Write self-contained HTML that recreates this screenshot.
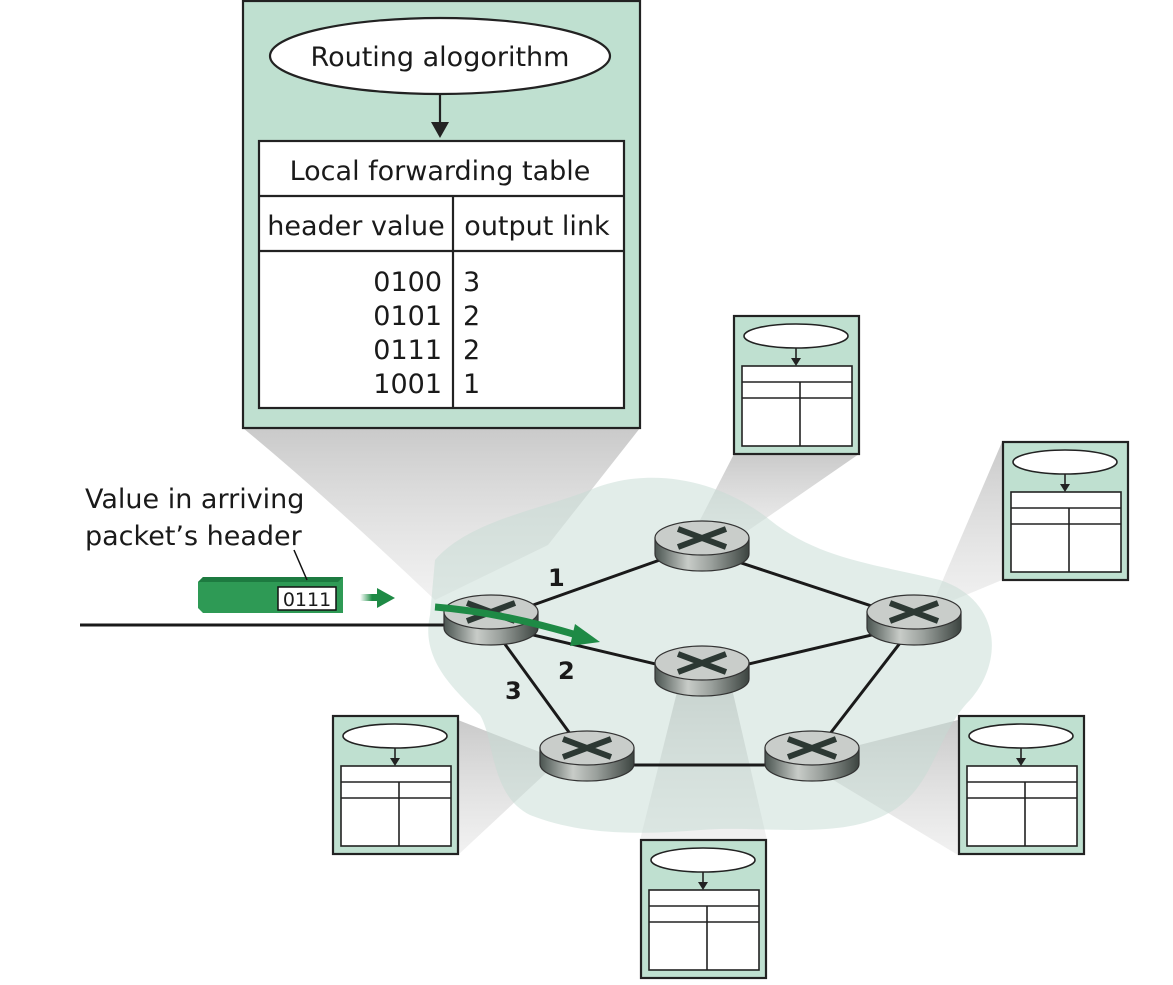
<!DOCTYPE html>
<html><head><meta charset="utf-8"><style>
html,body{margin:0;padding:0;background:#fff}
svg{display:block}
text{font-family:"DejaVu Sans","Liberation Sans",sans-serif;fill:#1a1a1a}
</style></head><body>
<svg width="1173" height="985" viewBox="0 0 1173 985" xmlns="http://www.w3.org/2000/svg">
<defs>
<linearGradient id="side" x1="0" x2="1" y1="0" y2="0">
<stop offset="0" stop-color="#4a5450"/><stop offset="0.35" stop-color="#c8ccc8"/><stop offset="0.6" stop-color="#9aa09c"/><stop offset="1" stop-color="#3c4440"/>
</linearGradient>
<linearGradient id="sh" x1="0" x2="0" y1="0" y2="1">
<stop offset="0" stop-color="#b8b8b8" stop-opacity="0.75"/><stop offset="1" stop-color="#d8d8d8" stop-opacity="0.35"/>
</linearGradient>
<linearGradient id="pk" x1="0" x2="1"><stop offset="0" stop-color="#2e9a55" stop-opacity="0"/><stop offset="0.6" stop-color="#1e8a45"/></linearGradient>
<g id="rt">
<path d="M-47,0 L-47,16 A47,17 0 0 0 47,16 L47,0 Z" fill="url(#side)" stroke="#333" stroke-width="1.2"/>
<ellipse cx="0" cy="0" rx="47" ry="17" fill="#c9cdca" stroke="#333" stroke-width="1.2"/>
<path d="M-24,-9 L24,9 M-24,9 L24,-9" stroke="#2c3833" stroke-width="6"/>
</g>
<g id="mini">
<rect x="0" y="0" width="125" height="138" fill="#bfe0d0" stroke="#222" stroke-width="2.2"/>
<ellipse cx="62" cy="20" rx="52" ry="12" fill="#fff" stroke="#222" stroke-width="1.6"/>
<line x1="62" y1="32" x2="62" y2="43" stroke="#222" stroke-width="1.6"/>
<path d="M57,42 L67,42 L62,50 Z" fill="#222"/>
<rect x="8" y="50" width="110" height="80" fill="#fff" stroke="#222" stroke-width="1.6"/>
<line x1="8" y1="66" x2="118" y2="66" stroke="#222" stroke-width="1.6"/>
<line x1="8" y1="82" x2="118" y2="82" stroke="#222" stroke-width="1.6"/>
<line x1="66" y1="66" x2="66" y2="130" stroke="#222" stroke-width="1.6"/>
</g>
</defs>

<!-- shadows -->
<path d="M243,428 L640,428 L548,545 L435,600 Q330,500 243,428 Z" fill="url(#sh)"/>
<polygon points="734,454 859,454 720,550 700,520" fill="url(#sh)"/>
<polygon points="1002,580 1002,442 930,610" fill="url(#sh)"/>
<polygon points="458,720 458,855 560,760" fill="url(#sh)"/>
<polygon points="958,720 958,855 800,760" fill="url(#sh)"/>
<polygon points="640,840 767,840 730,680 680,680" fill="url(#sh)"/>

<!-- cloud -->
<path d="M435,560 C470,520 540,510 590,490 C650,465 720,480 770,520 C820,560 880,565 940,580 C1000,600 1005,660 970,700 C935,735 935,790 885,815 C835,840 760,825 700,830 C640,835 580,835 530,815 C490,795 495,740 480,715 C455,690 420,660 430,615 Z" fill="#c5dcd4" fill-opacity="0.5"/>

<!-- links -->
<line x1="80" y1="625" x2="450" y2="625" stroke="#1a1a1a" stroke-width="3"/>
<g stroke="#1a1a1a" stroke-width="3">
<line x1="491" y1="620" x2="702" y2="545"/>
<line x1="491" y1="625" x2="702" y2="675"/>
<line x1="491" y1="625" x2="587" y2="757"/>
<line x1="702" y1="550" x2="914" y2="620"/>
<line x1="702" y1="675" x2="914" y2="625"/>
<line x1="587" y1="765" x2="812" y2="765"/>
<line x1="914" y1="625" x2="812" y2="757"/>
</g>
<use href="#rt" x="491" y="612"/>
<use href="#rt" x="702" y="538"/>
<use href="#rt" x="914" y="612"/>
<use href="#rt" x="702" y="663"/>
<use href="#rt" x="587" y="748"/>
<use href="#rt" x="812" y="748"/>

<!-- green curved arrow -->
<path d="M435,607 Q500,612 580,636" fill="none" stroke="#1e8a45" stroke-width="7"/>
<path d="M575,624 L600,642 L570,646 Z" fill="#1e8a45"/>

<text x="548" y="586" font-size="24" font-weight="bold">1</text>
<text x="558" y="679" font-size="24" font-weight="bold">2</text>
<text x="505" y="699" font-size="24" font-weight="bold">3</text>

<!-- packet -->
<polygon points="198,582 203,577 343,577 343,613 203,613 198,608" fill="#2e9a55"/>
<polygon points="198,582 203,577 343,577 338,582" fill="#1d7a40"/>
<rect x="278" y="587" width="58" height="23" fill="#fff" stroke="#111" stroke-width="1.5"/>
<text x="307" y="606" font-size="19" text-anchor="middle">0111</text>
<rect x="360" y="594" width="20" height="7" fill="url(#pk)"/>
<path d="M377,588 L395,598 L377,608 Z" fill="#1e8a45"/>
<line x1="294" y1="550" x2="307" y2="580" stroke="#111" stroke-width="1.5"/>
<text x="85" y="508" font-size="27">Value in arriving</text>
<text x="85" y="545" font-size="27">packet’s header</text>

<!-- big box -->
<rect x="243" y="1" width="397" height="427" fill="#bfe0d0" stroke="#222" stroke-width="2.2"/>
<ellipse cx="440" cy="56" rx="170" ry="38" fill="#fff" stroke="#222" stroke-width="2.2"/>
<text x="440" y="66" font-size="27" text-anchor="middle">Routing alogorithm</text>
<line x1="440" y1="94" x2="440" y2="125" stroke="#222" stroke-width="2.2"/>
<path d="M431,122 L449,122 L440,138 Z" fill="#222"/>
<rect x="259" y="141" width="365" height="267" fill="#fff" stroke="#222" stroke-width="2.2"/>
<line x1="259" y1="196" x2="624" y2="196" stroke="#222" stroke-width="2.2"/>
<line x1="259" y1="251" x2="624" y2="251" stroke="#222" stroke-width="2.2"/>
<line x1="453" y1="196" x2="453" y2="408" stroke="#222" stroke-width="2.2"/>
<text x="440" y="180" font-size="27" text-anchor="middle">Local forwarding table</text>
<text x="356" y="235" font-size="27" text-anchor="middle">header value</text>
<text x="537" y="235" font-size="27" text-anchor="middle">output link</text>
<g style="font-size:27px">
<text x="442" y="291" text-anchor="end">0100</text>
<text x="442" y="325" text-anchor="end">0101</text>
<text x="442" y="359" text-anchor="end">0111</text>
<text x="442" y="393" text-anchor="end">1001</text>
<text x="463" y="291">3</text>
<text x="463" y="325">2</text>
<text x="463" y="359">2</text>
<text x="463" y="393">1</text>
</g>

<!-- mini boxes -->
<use href="#mini" x="734" y="316"/>
<use href="#mini" x="1003" y="442"/>
<use href="#mini" x="333" y="716"/>
<use href="#mini" x="959" y="716"/>
<use href="#mini" x="641" y="840"/>
</svg>
</body></html>
